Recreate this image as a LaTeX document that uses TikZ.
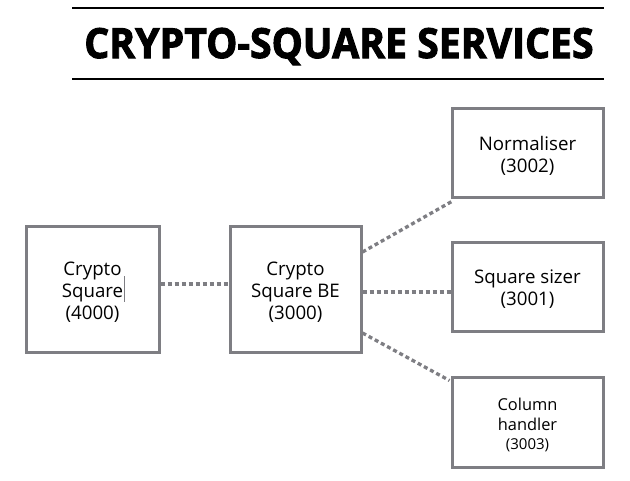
\documentclass[tikz,border=0pt]{standalone}
\usepackage{fontspec}
\setmainfont{Open Sans}
\newfontfamily\titlefont{Open Sans}[UprightFeatures={FakeBold=0}, BoldFeatures={FakeBold=2.4}]
\usetikzlibrary{calc}
\definecolor{boxgray}{HTML}{7E7E83}
\tikzset{
  svc/.style={draw=boxgray, line width=3pt, fill=white, inner sep=0pt},
  txt/.style={align=center, inner sep=0pt, yshift=-3pt,
    font=\fontsize{18.7}{21.8}\selectfont},
  smalltxt/.style={txt, font=\fontsize{16.4}{19.5}\selectfont},
  link/.style={draw=boxgray, line width=3.3pt, dash pattern=on 4pt off 3pt},
  rule/.style={draw=black, line width=1.2pt},
}
\begin{document}
\begin{tikzpicture}[x=1pt, y=-1pt]
  \useasboundingbox (0,0) rectangle (630,480);

  % heading between two rules
  \coordinate (r1a) at (72,8);   \coordinate (r1b) at (604,8);
  \coordinate (r2a) at (72,79);  \coordinate (r2b) at (604,79);
  \draw[rule] (r1a) -- (r1b);
  \draw[rule] (r2a) -- (r2b);
  \node[anchor=base, inner sep=0pt, xscale=0.945,
        font=\titlefont\bfseries\fontsize{41.5}{41.5}\selectfont]
    (title) at (339,58) {CRYPTO-SQUARE SERVICES};

  % services
  \node[svc, minimum width=133pt, minimum height=126pt,
        label={[txt]center:{Crypto\\Square\\(4000)}}] (front) at (92.5,289) {};
  \node[svc, minimum width=131pt, minimum height=126pt,
        label={[txt]center:{Crypto\\Square BE\\(3000)}}] (be) at (295.5,289) {};
  \node[svc, minimum width=151pt, minimum height=89pt,
        label={[txt]center:{Normaliser\\(3002)}}] (norm) at (527.5,152.5) {};
  \node[svc, minimum width=151pt, minimum height=89pt,
        label={[txt]center:{Square sizer\\(3001)}}] (sizer) at (527.5,286.5) {};
  \node[svc, minimum width=151pt, minimum height=90pt,
        label={[smalltxt]center:{Column\\handler\\{\fontsize{15}{17}\selectfont(3003)}}}]
    (col) at (527.5,422) {};

  % text cursor after "Square"
  \coordinate (cur1) at (124,276);
  \coordinate (cur2) at (124,302);
  \draw[boxgray, line width=0.8pt] (cur1) -- (cur2);

  % dotted links
  \draw[link] ([yshift=5pt]front.east) -- ([yshift=5pt]be.west);
  \draw[link] ([yshift=37pt]be.east) -- ([xshift=3pt,yshift=-2pt]norm.south west);
  \draw[link] ([yshift=-3pt]be.east) -- ([yshift=-5.5pt]sizer.west);
  \draw[link] ([yshift=-44pt]be.east) -- ([xshift=-1pt,yshift=-5pt]col.north west);
\end{tikzpicture}
\end{document}
